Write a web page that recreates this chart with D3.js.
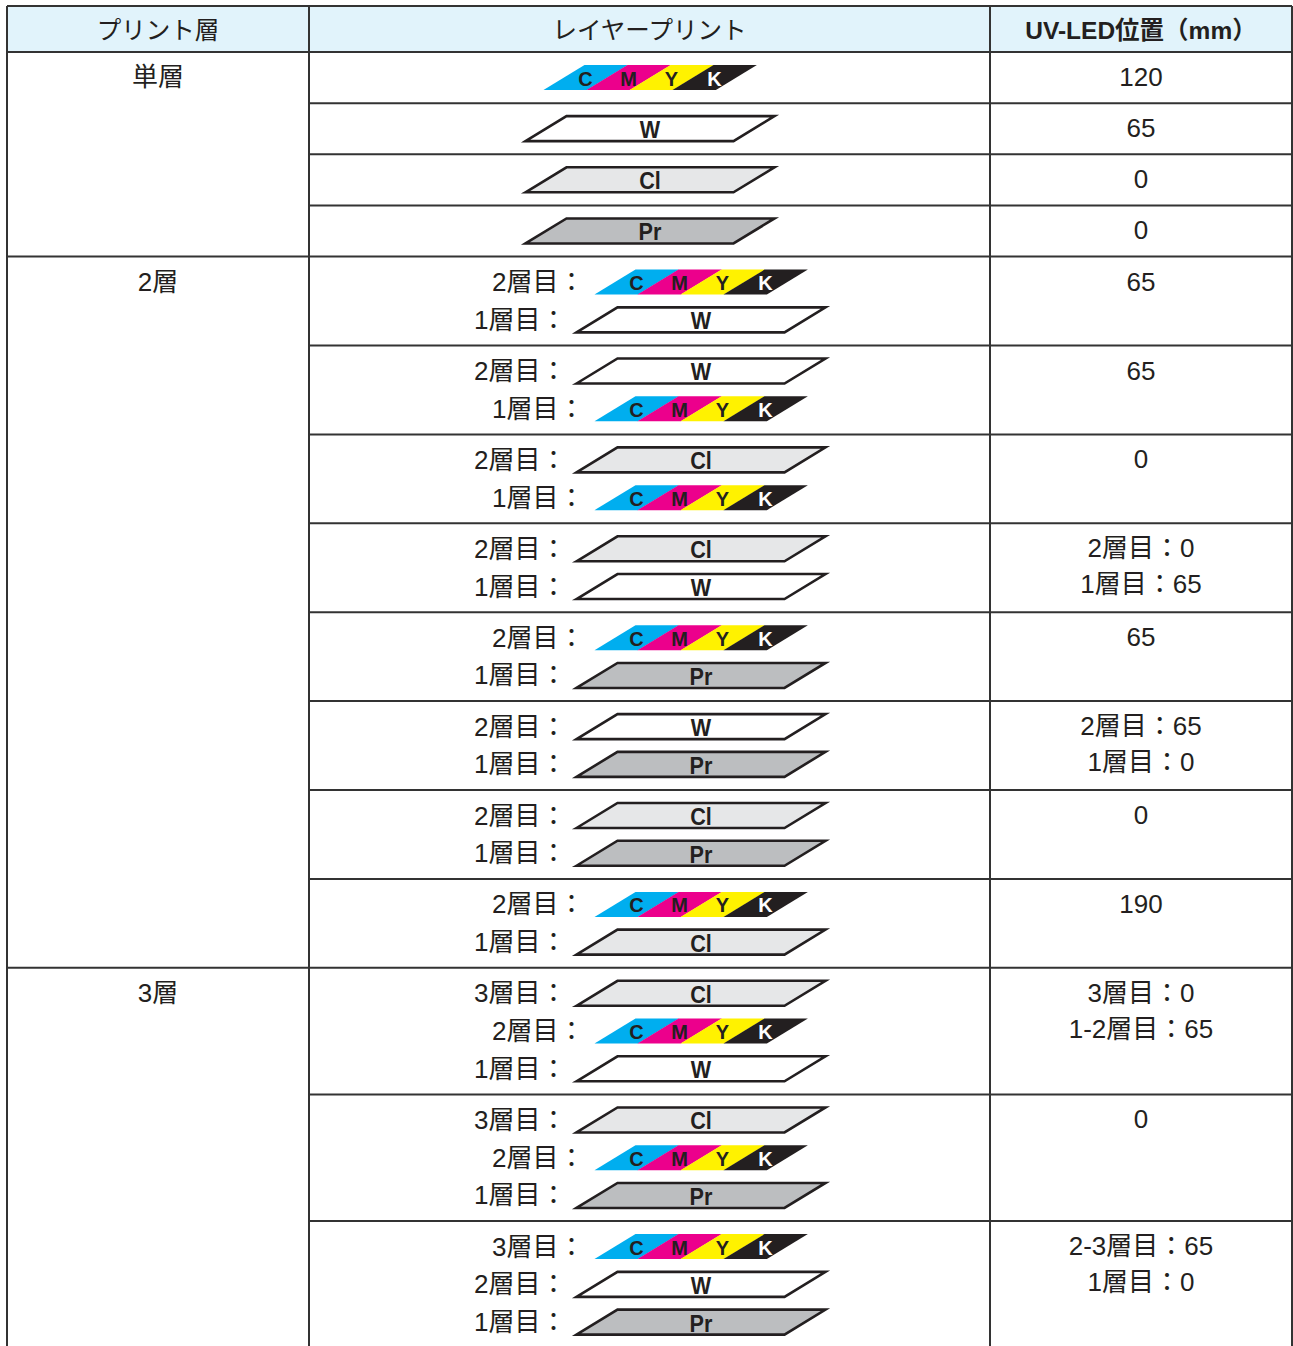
<!DOCTYPE html>
<html>
<head>
<meta charset="utf-8">
<script src="https://cdn.jsdelivr.net/npm/d3@7"></script>
<style>
  body { margin: 0; background: #fff; }
  text { fill: #231f20; }
</style>
</head>
<body>
<div id="chart"></div>
<script>
const headers = ["プリント層", "レイヤープリント", "UV-LED位置（mm）"];
const groupNames = ["単層", "2層", "3層"];
// group index of every table row
const rowGroups = [0, 0, 0, 0, 1, 1, 1, 1, 1, 1, 1, 1, 2, 2, 2];
// layers listed top (last printed) to bottom (first printed)
const rowLayers = [
  ["CMYK"], ["W"], ["Cl"], ["Pr"],
  ["CMYK", "W"], ["W", "CMYK"], ["Cl", "CMYK"], ["Cl", "W"],
  ["CMYK", "Pr"], ["W", "Pr"], ["Cl", "Pr"], ["CMYK", "Cl"],
  ["Cl", "CMYK", "W"], ["Cl", "CMYK", "Pr"], ["CMYK", "W", "Pr"]
];
const rowUV = [
  ["120"], ["65"], ["0"], ["0"],
  ["65"], ["65"], ["0"], ["2層目：0", "1層目：65"],
  ["65"], ["2層目：65", "1層目：0"], ["0"], ["190"],
  ["3層目：0", "1-2層目：65"], ["0"], ["2-3層目：65", "1層目：0"]
];
const inks = ["C", "M", "Y", "K"];

const width = 1293, height = 1346;
const colX = [7, 309, 990, 1292];
const headTop = 6, headBottom = 52;
const lineColor = "#333";
const jp = "'Liberation Sans', Arial, 'Noto Sans CJK JP', sans-serif";
const bodySize = "26px";

const inkColor = d3.scaleOrdinal().domain(inks).range(["#00aeef", "#ec008c", "#fff200", "#231f20"]);
const inkText = d3.scaleOrdinal().domain(inks).range(["#231f20", "#231f20", "#231f20", "#fff"]);
const layerFill = d3.scaleOrdinal().domain(["W", "Cl", "Pr"]).range(["#fff", "#e6e7e8", "#bcbec0"]);

// row height grows with the number of stacked layers
const rowH = rowLayers.map(l => 13.4 + 37.75 * l.length);
const rowTop = [headBottom, ...d3.cumsum(rowH).map(v => headBottom + v)];
// vertical position of a text line inside a row
const lineY = d3.scaleLinear().domain([0, 1]).range([25.5, 25.5 + 37.75]);
const uvY = d3.scaleLinear().domain([0, 1]).range([25, 61]);

const svg = d3.select("#chart").append("svg")
  .attr("width", width)
  .attr("height", height);

// header
svg.append("rect")
  .attr("x", colX[0]).attr("y", headTop)
  .attr("width", colX[3] - colX[0]).attr("height", headBottom - headTop)
  .attr("fill", "#e1f3fb");

svg.selectAll("text.head")
  .data(headers)
  .enter().append("text")
  .attr("class", "head")
  .attr("x", (d, i) => (colX[i] + colX[i + 1]) / 2)
  .attr("y", (headTop + headBottom) / 2 + 1)
  .attr("text-anchor", "middle")
  .attr("dominant-baseline", "central")
  .style("font-family", jp)
  .style("font-size", "24.5px")
  .style("font-weight", (d, i) => i === 2 ? "bold" : "normal")
  .text(d => d);

// group labels
const groupStart = groupNames.map((g, gi) => rowGroups.indexOf(gi));
svg.selectAll("text.group")
  .data(groupNames)
  .enter().append("text")
  .attr("class", "group")
  .attr("x", (colX[0] + colX[1]) / 2)
  .attr("y", (d, i) => rowTop[groupStart[i]] + 25)
  .attr("text-anchor", "middle")
  .attr("dominant-baseline", "central")
  .style("font-family", jp)
  .style("font-size", bodySize)
  .text(d => d);

// UV-LED values
rowUV.forEach((vals, r) => {
  svg.selectAll(null)
    .data(vals)
    .enter().append("text")
    .attr("x", (colX[2] + colX[3]) / 2)
    .attr("y", (d, i) => rowTop[r] + uvY(i))
    .attr("text-anchor", "middle")
    .attr("dominant-baseline", "central")
    .style("font-family", jp)
    .style("font-size", bodySize)
    .text(d => d);
});

// layer parallelograms
const shapeH = 25, skew = 41;
const shapeW = d => d === "CMYK" ? 172 : 208;
const para = (x0, yb, w) =>
  `M${x0},${yb}L${x0 + skew},${yb - shapeH}L${x0 + skew + w},${yb - shapeH}L${x0 + w},${yb}Z`;

rowLayers.forEach((layers, r) => {
  const n = layers.length;
  const cx = n === 1 ? 650 : 701;
  layers.forEach((layer, i) => {
    const cy = rowTop[r] + lineY(i);
    const w = shapeW(layer);
    const x0 = cx - (w + skew) / 2;
    const yb = cy + shapeH / 2;
    const g = svg.append("g");
    if (layer === "CMYK") {
      const seg = w / inks.length;
      g.selectAll("path")
        .data(inks)
        .enter().append("path")
        .attr("d", (d, k) => para(x0 + k * seg, yb, seg + 0.4))
        .attr("fill", d => inkColor(d));
      g.selectAll("text")
        .data(inks)
        .enter().append("text")
        .attr("x", (d, k) => x0 + k * seg + seg / 2 + skew / 2)
        .attr("y", cy + 1)
        .attr("text-anchor", "middle")
        .attr("dominant-baseline", "central")
        .style("font-family", "'Liberation Sans', Arial, sans-serif")
        .style("font-weight", "bold")
        .style("font-size", "20px")
        .style("fill", d => inkText(d))
        .text(d => d);
    } else {
      g.append("path")
        .attr("d", para(x0, yb, w))
        .attr("fill", layerFill(layer))
        .attr("stroke", "#231f20")
        .attr("stroke-width", 2.6)
        .attr("stroke-linejoin", "miter");
      // narrow bold label
      g.append("text")
        .attr("transform", `translate(${cx},${cy + 1}) scale(0.9,1)`)
        .attr("text-anchor", "middle")
        .attr("dominant-baseline", "central")
        .style("font-family", "'Liberation Sans', Arial, sans-serif")
        .style("font-weight", "bold")
        .style("font-size", "24px")
        .text(layer);
    }
    if (n > 1) {
      svg.append("text")
        .attr("x", x0 - 10)
        .attr("y", cy)
        .attr("text-anchor", "end")
        .attr("dominant-baseline", "central")
        .style("font-family", jp)
        .style("font-size", bodySize)
        .text(`${n - i}層目：`);
    }
  });
});

// grid lines
const grid = svg.append("g")
  .attr("stroke", lineColor)
  .attr("stroke-width", 2)
  .attr("fill", "none");

grid.append("line")
  .attr("x1", colX[0]).attr("x2", colX[3])
  .attr("y1", headTop).attr("y2", headTop);

grid.selectAll("line.h")
  .data(rowTop)
  .enter().append("line")
  .attr("class", "h")
  .attr("x1", (d, i) => (i === 0 || groupStart.includes(i) || i === rowTop.length - 1) ? colX[0] : colX[1])
  .attr("x2", colX[3])
  .attr("y1", d => d).attr("y2", d => d);

grid.selectAll("line.v")
  .data(colX)
  .enter().append("line")
  .attr("class", "v")
  .attr("x1", d => d).attr("x2", d => d)
  .attr("y1", headTop).attr("y2", rowTop[rowTop.length - 1]);
</script>
</body>
</html>
